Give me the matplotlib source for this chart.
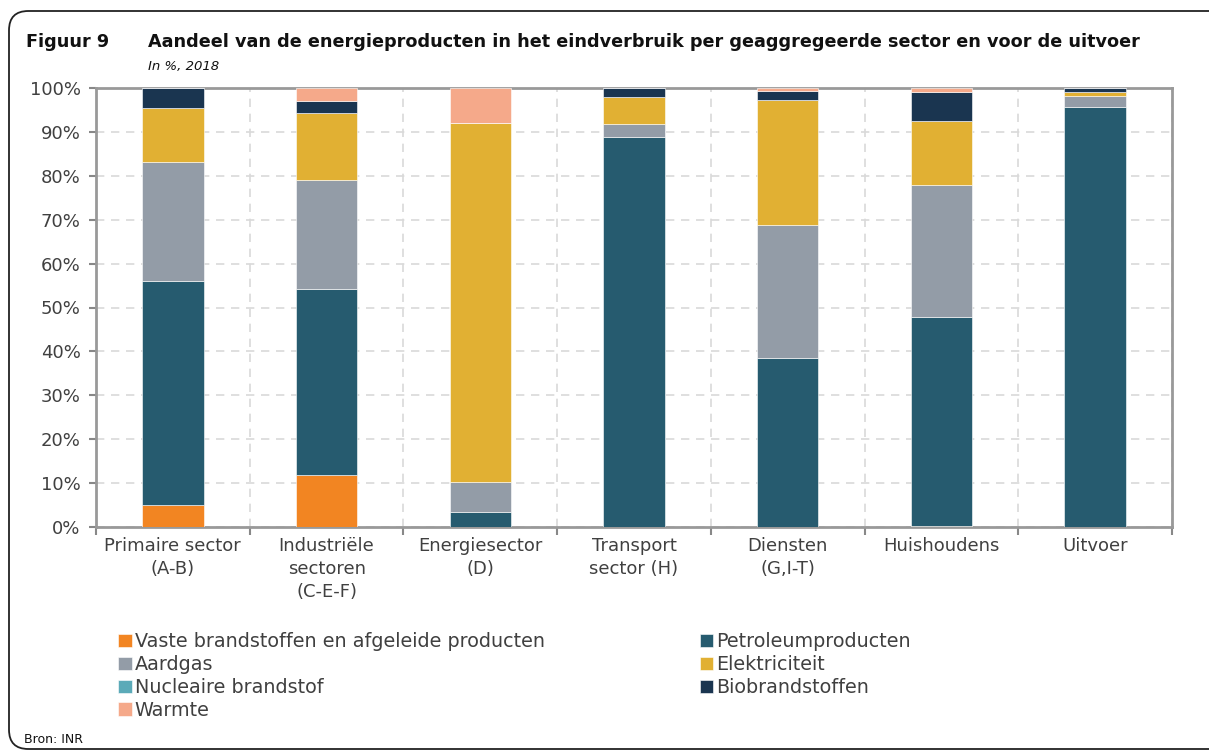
import matplotlib
matplotlib.use("Agg")
import matplotlib.pyplot as plt
import numpy as np
from matplotlib.patches import FancyBboxPatch

categories = ["Primaire sector\n(A-B)", "Industriële\nsectoren\n(C-E-F)", "Energiesector\n(D)",
              "Transport\nsector (H)", "Diensten\n(G,I-T)", "Huishoudens", "Uitvoer"]
series_names = ["Vaste brandstoffen en afgeleide producten", "Petroleumproducten", "Aardgas",
                "Elektriciteit", "Nucleaire brandstof", "Biobrandstoffen", "Warmte"]
vaste = [5.0, 11.8, 0.0, 0.0, 0.0, 0.2, 0.0]
petroleum = [51.0, 42.4, 3.5, 88.8, 38.4, 47.6, 95.7]
aardgas = [27.1, 24.8, 6.7, 3.1, 30.3, 30.2, 2.5]
elektriciteit = [12.3, 15.3, 81.8, 6.1, 28.6, 14.4, 0.9]
nucleair = [0.0, 0.0, 0.0, 0.0, 0.0, 0.0, 0.0]
bio = [4.5, 2.7, 0.0, 2.0, 2.0, 6.8, 0.9]
warmte = [0.1, 3.0, 8.0, 0.0, 0.7, 0.8, 0.0]
yticks = [0, 10, 20, 30, 40, 50, 60, 70, 80, 90, 100]

colors = ["#F28522", "#265B6F", "#939CA7", "#E1B033", "#5BAAB8", "#1A3550", "#F5A98A"]
data = [vaste, petroleum, aardgas, elektriciteit, nucleair, bio, warmte]

plt.rcParams['font.family'] = ['DejaVu Sans']
fig = plt.figure(figsize=(12.09, 7.51), dpi=100)
W, H = 1209, 751

# rounded frame
frame = FancyBboxPatch((9 / W, 1 - 749 / H), (1250 - 9) / W, (749 - 11) / H,
                       boxstyle="round,pad=0,rounding_size=0.016", transform=fig.transFigure,
                       facecolor="none", edgecolor="#222222", linewidth=1.3, zorder=-1,
                       mutation_aspect=W / H)
fig.patches.append(frame)

ax = fig.add_axes([96 / W, 1 - 527 / H, (1172 - 96) / W, (527 - 88) / H])
ax.set_facecolor("none")
x = np.arange(len(categories))
bottom = np.zeros(len(categories))
handles = []
for vals, col, name in zip(data, colors, series_names):
    vals = np.array(vals)
    b = ax.bar(x, vals, 0.4, bottom=bottom, color=col, edgecolor="white", linewidth=0.4,
               label=name, zorder=3)
    bottom += vals
    handles.append(b)

ax.set_xlim(-0.5, len(categories) - 0.5)
ax.set_ylim(0, 100)
ax.set_yticks(yticks)
ax.set_yticklabels([f"{v}%" for v in yticks], fontsize=13, color="#404040")
ax.set_xticks(x)
ax.set_xticklabels(categories, fontsize=13, color="#404040", linespacing=1.38)
ax.tick_params(axis="x", length=0, pad=7)
ax.set_xticks(np.arange(-0.5, len(categories), 1), minor=True)
ax.tick_params(axis="x", which="minor", length=6, color="#888888", width=1.5)
ax.tick_params(axis="y", length=5, color="#888888", width=1.5, pad=6)
ax.grid(axis="y", linestyle=(0, (5, 4)), color="#D9D9D9", linewidth=1.2, zorder=0)
ax.grid(axis="x", which="minor", linestyle=(0, (5, 4)), color="#D9D9D9", linewidth=1.2, zorder=0)
for s in ax.spines.values():
    s.set_color("#999999")
    s.set_linewidth(2)

fig.text(26 / W, 1 - 47 / H, "Figuur 9", fontsize=12.7, fontweight="bold", va="baseline", color="#111111")
fig.text(148 / W, 1 - 47 / H, "Aandeel van de energieproducten in het eindverbruik per geaggregeerde sector en voor de uitvoer",
         fontsize=12.7, fontweight="bold", va="baseline", color="#111111")
fig.text(148 / W, 1 - 70 / H, "In %, 2018", fontsize=9.5, style="italic", va="baseline", color="#111111")
fig.text(24 / W, 1 - 743 / H, "Bron: INR", fontsize=9, va="baseline", color="#111111")

order = [0, 2, 4, 6, 1, 3, 5]
leg = fig.legend([handles[i] for i in order], [series_names[i] for i in order], ncol=2,
                 loc="upper left", bbox_to_anchor=(101 / W, 1 - 615 / H), frameon=False,
                 fontsize=13.8, handlelength=0.7, handleheight=0.7, handletextpad=0.15,
                 labelspacing=0.2, columnspacing=8.1, labelcolor="#404040")

fig.savefig("out.png", dpi=100)
